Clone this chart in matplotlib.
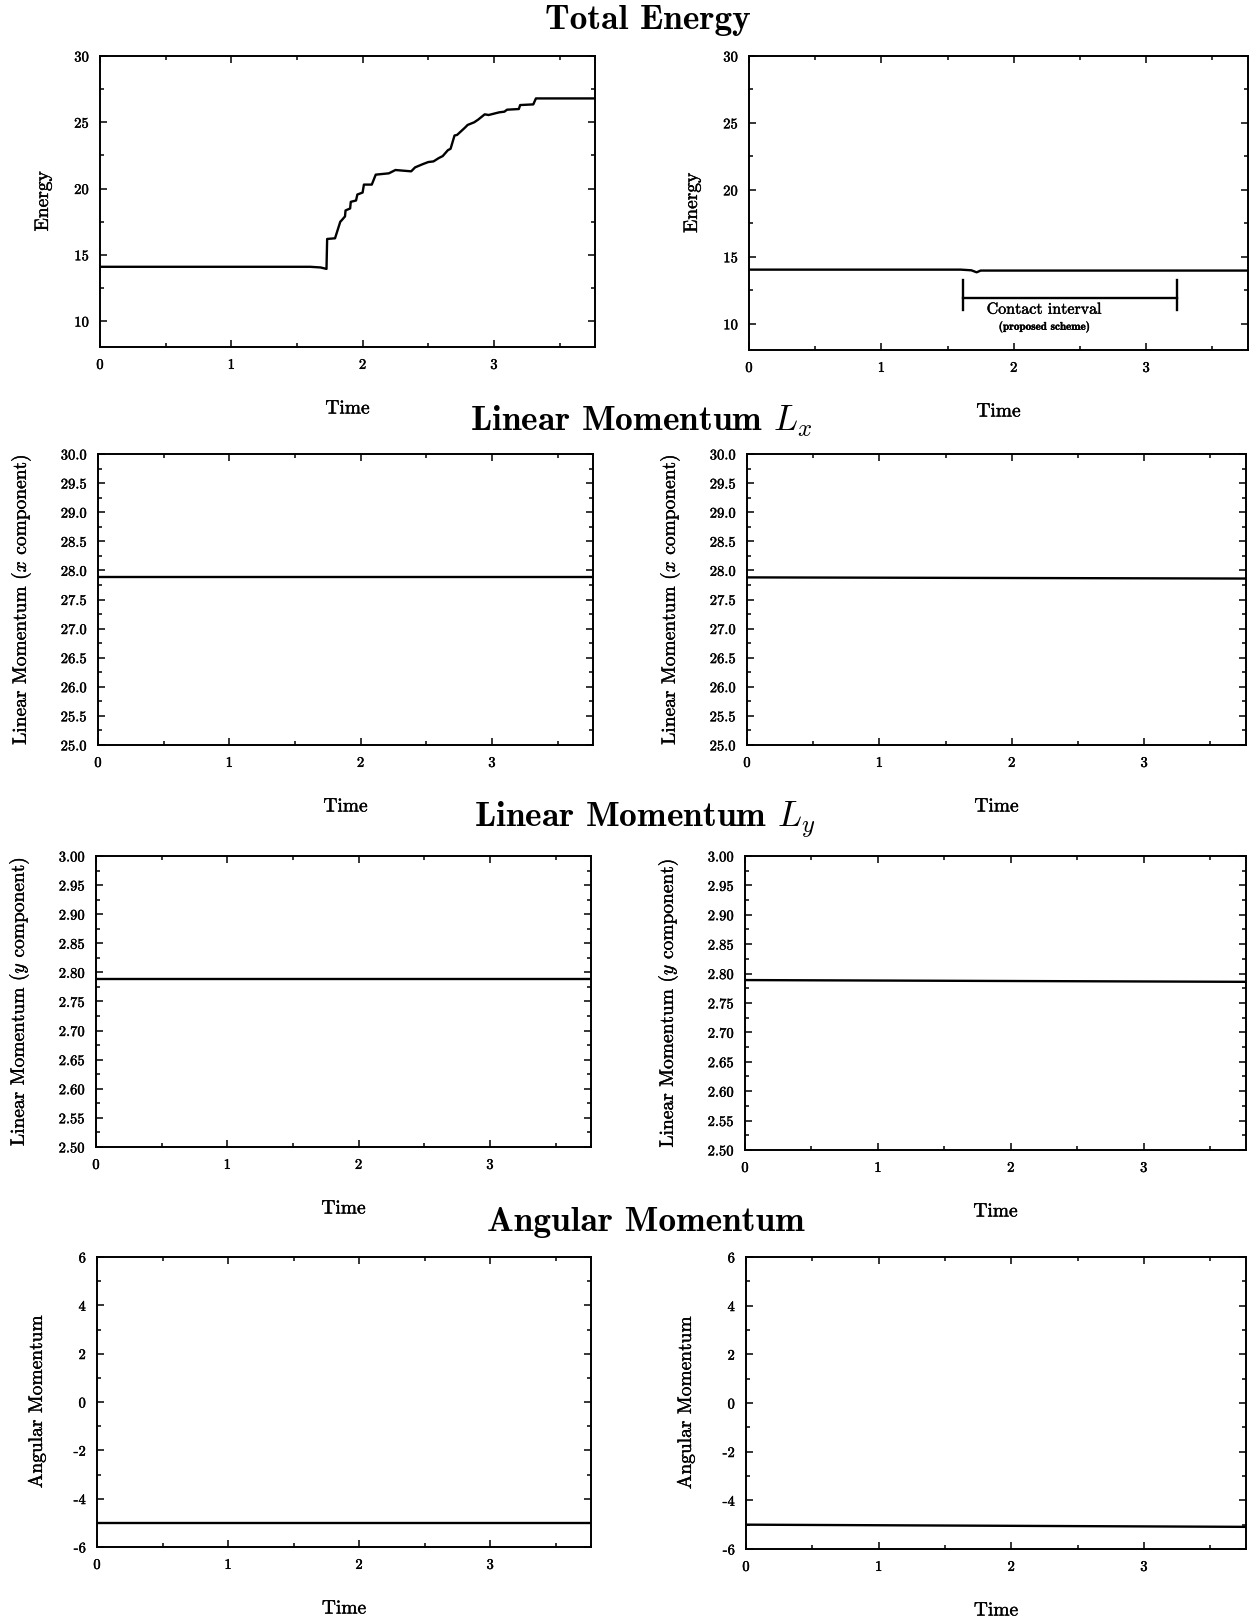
import matplotlib
matplotlib.use("Agg")
import matplotlib.pyplot as plt
import matplotlib.patheffects as pe
from matplotlib.ticker import MultipleLocator, FixedLocator, FixedFormatter

plt.rcParams['font.family'] = 'serif'
plt.rcParams['font.serif'] = ['cmr10', 'DejaVu Serif']
plt.rcParams['mathtext.fontset'] = 'cm'
plt.rcParams['axes.formatter.use_mathtext'] = True

# ---------------- data ----------------
T_END = 3.77
# Total energy, standard scheme (left)
energy_left_t = [0.0, 1.60, 1.68, 1.725, 1.73, 1.79, 1.83, 1.84, 1.866, 1.87, 1.905, 1.91, 1.95,
                 1.96, 2.0, 2.01, 2.07, 2.10, 2.20, 2.25, 2.31, 2.37, 2.40, 2.46, 2.50, 2.54,
                 2.58, 2.61, 2.65, 2.67, 2.70, 2.72, 2.78, 2.80, 2.85, 2.88, 2.93, 2.96, 3.04,
                 3.08, 3.10, 3.19, 3.20, 3.30, 3.32, T_END]
energy_left_E = [14.10, 14.10, 14.05, 13.94, 16.20, 16.25, 17.50, 17.60, 17.90, 18.35, 18.50, 19.00,
                 19.10, 19.55, 19.70, 20.30, 20.30, 21.05, 21.15, 21.40, 21.35, 21.30, 21.60, 21.85,
                 22.00, 22.05, 22.30, 22.45, 22.90, 23.00, 24.00, 24.05, 24.60, 24.80, 25.00, 25.20,
                 25.60, 25.55, 25.75, 25.80, 25.95, 26.00, 26.30, 26.35, 26.80, 26.80]
# Total energy, proposed scheme (right)
energy_right_t = [0.0, 1.60, 1.68, 1.72, 1.75, T_END]
energy_right_E = [14.05, 14.05, 14.00, 13.85, 13.98, 13.98]
contact_start, contact_end, contact_level = 1.62, 3.23, 11.95
contact_text_t = 2.23

lx_left = [27.88, 27.88]
lx_right = [27.88, 27.86]
ly_left = [2.789, 2.789]
ly_right = [2.789, 2.786]
ang_left = [-5.00, -5.00]
ang_right = [-5.00, -5.09]
line_t = [0.0, T_END]

x_ticks = [0, 1, 2, 3]
energy_ticks = [10, 15, 20, 25, 30]
lx_ticks = [25.0, 25.5, 26.0, 26.5, 27.0, 27.5, 28.0, 28.5, 29.0, 29.5, 30.0]
ly_ticks = [2.50, 2.55, 2.60, 2.65, 2.70, 2.75, 2.80, 2.85, 2.90, 2.95, 3.00]
ang_ticks = [-6, -4, -2, 0, 2, 4, 6]

section_titles = ["Total Energy", r"Linear Momentum $L_x$", r"Linear Momentum $L_y$", "Angular Momentum"]

# ---------------- figure ----------------
W, H = 1252, 1617
fig = plt.figure(figsize=(W / 100, H / 100), dpi=100)
THICK = [pe.withStroke(linewidth=0.3, foreground='black')]


def add_ax(l, r, t, b):
    return fig.add_axes([l / W, 1 - b / H, (r - l) / W, (b - t) / H])


def style(ax, ylim, yticks, yfmt, yminor, ylabel, ylabelpad):
    ax.set_xlim(0, T_END)
    ax.set_ylim(*ylim)
    ax.xaxis.set_major_locator(FixedLocator(x_ticks))
    ax.xaxis.set_major_formatter(FixedFormatter([str(v) for v in x_ticks]))
    ax.xaxis.set_minor_locator(MultipleLocator(0.5))
    ax.yaxis.set_major_locator(FixedLocator(yticks))
    ax.yaxis.set_major_formatter(FixedFormatter([yfmt.format(v) for v in yticks]))
    ax.yaxis.set_minor_locator(MultipleLocator(yminor))
    ax.tick_params(which='both', direction='in', top=True, right=True, labelsize=10.5, width=1.1)
    ax.tick_params(which='major', length=5, pad=8)
    ax.tick_params(which='minor', length=3)
    for s in ax.spines.values():
        s.set_linewidth(1.4)
    ax.set_xlabel("Time", fontsize=14, labelpad=20, path_effects=THICK)
    ax.set_ylabel(ylabel, fontsize=14, labelpad=ylabelpad, path_effects=THICK)
    for lab in ax.get_xticklabels() + ax.get_yticklabels():
        lab.set_path_effects(THICK)


LW = 1.7
lab_lx = r"Linear Momentum ($x$ component)"
lab_ly = r"Linear Momentum ($y$ component)"

# Row 1: energy
ax = add_ax(100, 595, 56, 347)
ax.plot(energy_left_t, energy_left_E, color='black', lw=LW)
style(ax, (8.05, 30), energy_ticks, "{:d}", 2.5, "Energy", 16)
ax = add_ax(749, 1248, 56, 350)
ax.plot(energy_right_t, energy_right_E, color='black', lw=LW)
style(ax, (8.05, 30), energy_ticks, "{:d}", 2.5, "Energy", 16)
ax.plot([contact_start, contact_end], [contact_level, contact_level], color='black', lw=1.7)
for xc in (contact_start, contact_end):
    ax.plot([xc, xc], [contact_level - 0.93, contact_level + 1.33], color='black', lw=1.7)
ax.text(contact_text_t, contact_level - 0.9, "Contact interval",
        ha='center', va='center', fontsize=11.5, path_effects=THICK)
ax.text(contact_text_t, contact_level - 2.2, "(proposed scheme)",
        ha='center', va='center', fontsize=8, family=['cmb10', 'DejaVu Serif'], path_effects=THICK)

# Row 2: Lx
ax = add_ax(98, 593, 454, 745)
ax.plot(line_t, lx_left, color='black', lw=LW)
style(ax, (25, 30), lx_ticks, "{:.1f}", 0.25, lab_lx, 20)
ax = add_ax(747, 1246, 454, 745)
ax.plot(line_t, lx_right, color='black', lw=LW)
style(ax, (25, 30), lx_ticks, "{:.1f}", 0.25, lab_lx, 20)

# Row 3: Ly
ax = add_ax(96, 591, 856, 1147)
ax.plot(line_t, ly_left, color='black', lw=LW)
style(ax, (2.5, 3.0), ly_ticks, "{:.2f}", 0.025, lab_ly, 20)
ax = add_ax(745, 1246, 856, 1150)
ax.plot(line_t, ly_right, color='black', lw=LW)
style(ax, (2.5, 3.0), ly_ticks, "{:.2f}", 0.025, lab_ly, 20)

# Row 4: angular momentum
ax = add_ax(97, 591, 1257, 1547)
ax.plot(line_t, ang_left, color='black', lw=LW)
style(ax, (-6, 6), ang_ticks, "{:d}", 1, "Angular Momentum", 20)
ax = add_ax(746, 1246, 1257, 1549)
ax.plot(line_t, ang_right, color='black', lw=LW)
style(ax, (-6, 6), ang_ticks, "{:d}", 1, "Angular Momentum", 20)

# Section titles
title_x = [648, 641, 645, 646]
title_y = [21, 421, 820, 1222]
for txt, x, y in zip(section_titles, title_x, title_y):
    fig.text(x / W, 1 - y / H, txt, ha='center', va='center', fontsize=25.5,
             family=['cmb10', 'DejaVu Serif'])

fig.savefig("out.png", dpi=100)
